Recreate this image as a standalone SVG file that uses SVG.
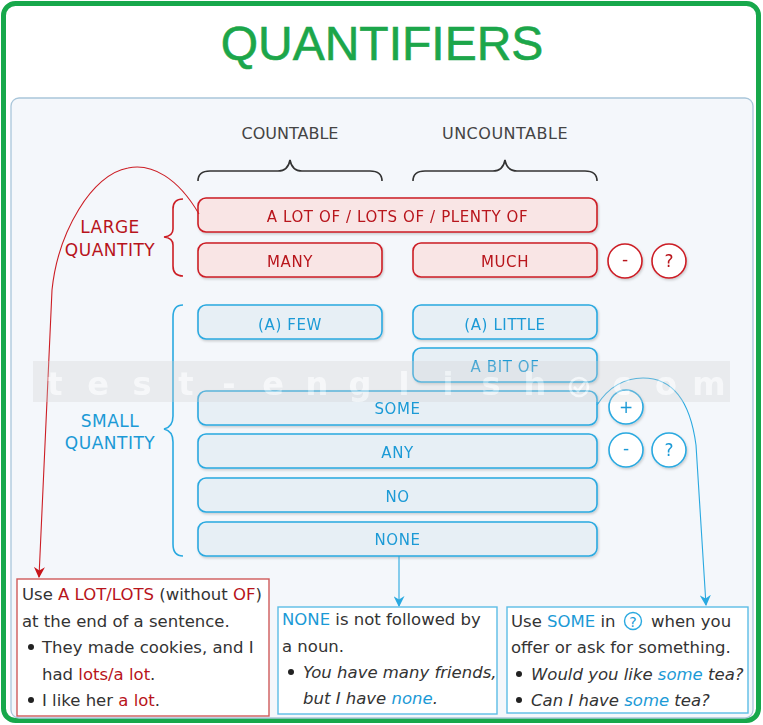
<svg xmlns="http://www.w3.org/2000/svg" width="763" height="725" viewBox="0 0 763 725">
<defs>
<style>
.t{font-family:"DejaVu Sans",sans-serif}
.hdr{font-size:16px;fill:#444;text-anchor:middle}
.q{font-size:17px;text-anchor:middle;letter-spacing:0.5px}
.lbl{font-size:15px;text-anchor:middle;letter-spacing:0.6px}
.rbox{fill:#f9e5e5;stroke:#cc1e25;stroke-width:1.6}
.bbox{fill:#e7eff5;stroke:#2aa9e0;stroke-width:1.6}
.rc{fill:#fff;stroke:#cc1e25;stroke-width:1.6}
.bc{fill:#fff;stroke:#2aa9e0;stroke-width:1.6}
.red{fill:#b8141b}
.blue{fill:#1b9ad6}
.sym{font-size:17px;text-anchor:middle}
.body{font-size:16.5px;fill:#333}
.it{font-style:italic}
.brR{fill:none;stroke:#cc1e25;stroke-width:1.6}
.brB{fill:none;stroke:#2aa9e0;stroke-width:1.6}
.brK{fill:none;stroke:#333;stroke-width:1.6}
.wm{font-family:"DejaVu Sans",sans-serif;font-weight:bold;font-size:32px;fill:#fff;text-anchor:middle}
</style>
<filter id="sh" x="-10%" y="-20%" width="120%" height="150%">
<feDropShadow dx="1" dy="1.5" stdDeviation="1" flood-color="#000" flood-opacity="0.18"/>
</filter>
<marker id="arrR" viewBox="0 0 10 10" refX="9" refY="5" markerWidth="11" markerHeight="11" markerUnits="userSpaceOnUse" orient="auto"><path d="M0,0 L10,5 L0,10 L3,5 z" fill="#c8151b"/></marker>
<marker id="arrB" viewBox="0 0 10 10" refX="9" refY="5" markerWidth="11" markerHeight="11" markerUnits="userSpaceOnUse" orient="auto"><path d="M0,0 L10,5 L0,10 L3,5 z" fill="#2aa9e0"/></marker>
</defs>

<rect x="0" y="0" width="763" height="725" fill="#fff"/>
<rect x="3.5" y="3.5" width="755" height="717" rx="12" fill="#fff" stroke="#17a84b" stroke-width="5"/>
<text x="382" y="60" text-anchor="middle" font-family="'Liberation Sans',Arial,sans-serif" font-size="48" fill="#1ca64a" stroke="#1ca64a" stroke-width="0.6">QUANTIFIERS</text>

<rect x="11" y="98" width="742" height="620" rx="8" fill="#f4f7fb" stroke="#a9c6da" stroke-width="1.3"/>

<g id="headers">
<text class="t hdr" x="290" y="139">COUNTABLE</text>
<text class="t hdr" x="505" y="139" letter-spacing="0.5">UNCOUNTABLE</text>
<path class="brK" d="M198,181 Q198,171 210,171 L278,171 Q288,171 290,160 Q292,171 302,171 L370,171 Q382,171 382,181"/>
<path class="brK" d="M413,181 Q413,171 425,171 L493,171 Q503,171 505,160 Q507,171 517,171 L585,171 Q597,171 597,181"/>
</g>

<g id="large-quantity">
<text class="t q red" x="110" y="233">LARGE</text>
<text class="t q red" x="110" y="256">QUANTITY</text>
<path class="brR" d="M183,199 Q173,199 173,209 L173,229 Q173,236 164,237 Q173,238 173,245 L173,266 Q173,276 183,276"/>
</g>

<g id="small-quantity">
<text class="t q blue" x="110" y="427">SMALL</text>
<text class="t q blue" x="110" y="449">QUANTITY</text>
<path class="brB" d="M183,305 Q173,305 173,317 L173,416 Q173,427 164,429 Q173,431 173,442 L173,544 Q173,556 183,556"/>
</g>

<g id="n-alot" filter="url(#sh)"><rect class="rbox" x="198" y="198" width="399" height="34" rx="8"/><text class="t lbl red" x="397.5" y="222">A LOT OF / LOTS OF / PLENTY OF</text></g>
<g id="n-many" filter="url(#sh)"><rect class="rbox" x="198" y="243" width="184" height="34" rx="8"/><text class="t lbl red" x="290" y="267">MANY</text></g>
<g id="n-much" filter="url(#sh)"><rect class="rbox" x="413" y="243" width="184" height="34" rx="8"/><text class="t lbl red" x="505" y="267">MUCH</text></g>
<g id="c-large-minus" filter="url(#sh)"><circle class="rc" cx="625" cy="261" r="17"/><text class="t sym red" x="625" y="265">-</text></g>
<g id="c-large-q" filter="url(#sh)"><circle class="rc" cx="669" cy="261" r="17"/><text class="t sym red" x="669" y="267">?</text></g>

<g id="n-afew" filter="url(#sh)"><rect class="bbox" x="198" y="305" width="184" height="34" rx="8"/><text class="t lbl blue" x="290" y="330">(A) FEW</text></g>
<g id="n-alittle" filter="url(#sh)"><rect class="bbox" x="413" y="305" width="184" height="34" rx="8"/><text class="t lbl blue" x="505" y="330">(A) LITTLE</text></g>
<g id="n-abitof" filter="url(#sh)"><rect class="bbox" x="413" y="348" width="184" height="34" rx="8"/><text class="t lbl blue" x="505" y="372">A BIT OF</text></g>
<g id="n-some" filter="url(#sh)"><rect class="bbox" x="198" y="391" width="399" height="34" rx="8"/><text class="t lbl blue" x="397.5" y="414">SOME</text></g>
<g id="n-any" filter="url(#sh)"><rect class="bbox" x="198" y="434" width="399" height="34" rx="8"/><text class="t lbl blue" x="397.5" y="458">ANY</text></g>
<g id="n-no" filter="url(#sh)"><rect class="bbox" x="198" y="478" width="399" height="34" rx="8"/><text class="t lbl blue" x="397.5" y="502">NO</text></g>
<g id="n-none" filter="url(#sh)"><rect class="bbox" x="198" y="522" width="399" height="34" rx="8"/><text class="t lbl blue" x="397.5" y="545">NONE</text></g>
<g id="c-some-plus" filter="url(#sh)"><circle class="bc" cx="626" cy="407" r="17"/><text class="t sym blue" x="626" y="413">+</text></g>
<g id="c-any-minus" filter="url(#sh)"><circle class="bc" cx="626" cy="450" r="17"/><text class="t sym blue" x="626" y="454">-</text></g>
<g id="c-any-q" filter="url(#sh)"><circle class="bc" cx="669" cy="450" r="17"/><text class="t sym blue" x="669" y="456">?</text></g>

<g id="connectors">
<path d="M199,214 C178,178 152,163 128,168 C92,174 58,232 52,290 L39,577" fill="none" stroke="#cc1e25" stroke-width="1.1" marker-end="url(#arrR)"/>
<path d="M399,556 L399,606" fill="none" stroke="#2aa9e0" stroke-width="1.1" marker-end="url(#arrB)"/>
<path d="M597,405 C608,388 624,378 643,378 C672,378 690,400 696,445 L706,605" fill="none" stroke="#2aa9e0" stroke-width="1.1" marker-end="url(#arrB)"/>
</g>

<g id="note-alot">
<rect x="17" y="579" width="252" height="137" fill="#fff" stroke="#cf5a5a" stroke-width="1.4"/>
<text class="t body" x="22" y="600">Use <tspan class="red">A LOT/LOTS</tspan> (without <tspan class="red">OF</tspan>)</text>
<text class="t body" x="22" y="627">at the end of a sentence.</text>
<circle cx="31" cy="647" r="3" fill="#222"/>
<text class="t body" x="42" y="653">They made cookies, and I</text>
<text class="t body" x="42" y="680">had <tspan class="red">lots/a lot</tspan>.</text>
<circle cx="31" cy="700" r="3" fill="#222"/>
<text class="t body" x="42" y="706">I like her <tspan class="red">a lot</tspan>.</text>
</g>

<g id="note-none">
<rect x="278" y="607" width="219" height="107" fill="#fff" stroke="#5cbde6" stroke-width="1.4"/>
<text class="t body" x="282" y="625"><tspan class="blue">NONE</tspan> is not followed by</text>
<text class="t body" x="282" y="652">a noun.</text>
<circle cx="291" cy="672" r="3" fill="#222"/>
<text class="t body it" x="303" y="678">You have many friends,</text>
<text class="t body it" x="303" y="704">but I have <tspan class="blue">none</tspan>.</text>
</g>

<g id="note-some">
<rect x="507" y="607" width="241" height="106" fill="#fff" stroke="#5cbde6" stroke-width="1.4"/>
<text class="t body" x="511" y="627">Use <tspan class="blue">SOME</tspan> in</text>
<circle cx="633" cy="621" r="8.5" fill="#fff" stroke="#2aa9e0" stroke-width="1.4"/>
<text class="t blue" x="633" y="627" font-size="14" text-anchor="middle">?</text>
<text class="t body" x="651" y="627">when you</text>
<text class="t body" x="511" y="653">offer or ask for something.</text>
<circle cx="519" cy="674" r="3" fill="#222"/>
<text class="t body it" x="531" y="680">Would you like <tspan class="blue">some</tspan> tea?</text>
<circle cx="519" cy="700" r="3" fill="#222"/>
<text class="t body it" x="531" y="706">Can I have <tspan class="blue">some</tspan> tea?</text>
</g>

<g id="watermark" opacity="0.55">
<rect x="33" y="361" width="697" height="41" fill="#cfcfcf" opacity="0.55"/>
<g opacity="0.8">
<text class="wm" x="55" y="395">t</text><text class="wm" x="98" y="395">e</text><text class="wm" x="142" y="395">s</text><text class="wm" x="186" y="395">t</text><text class="wm" x="229" y="395">-</text><text class="wm" x="273" y="395">e</text><text class="wm" x="317" y="395">n</text><text class="wm" x="360" y="395">g</text><text class="wm" x="404" y="395">l</text><text class="wm" x="448" y="395">i</text><text class="wm" x="491" y="395">s</text><text class="wm" x="535" y="395">h</text><text class="wm" x="622" y="395">c</text><text class="wm" x="666" y="395">o</text><text class="wm" x="709" y="395">m</text>
</g>
<circle cx="579" cy="387" r="9" fill="none" stroke="#fff" stroke-width="2.5"/>
<path d="M574,387 L578,391 L585,382" fill="none" stroke="#fff" stroke-width="2.5"/>
</g>
</svg>
